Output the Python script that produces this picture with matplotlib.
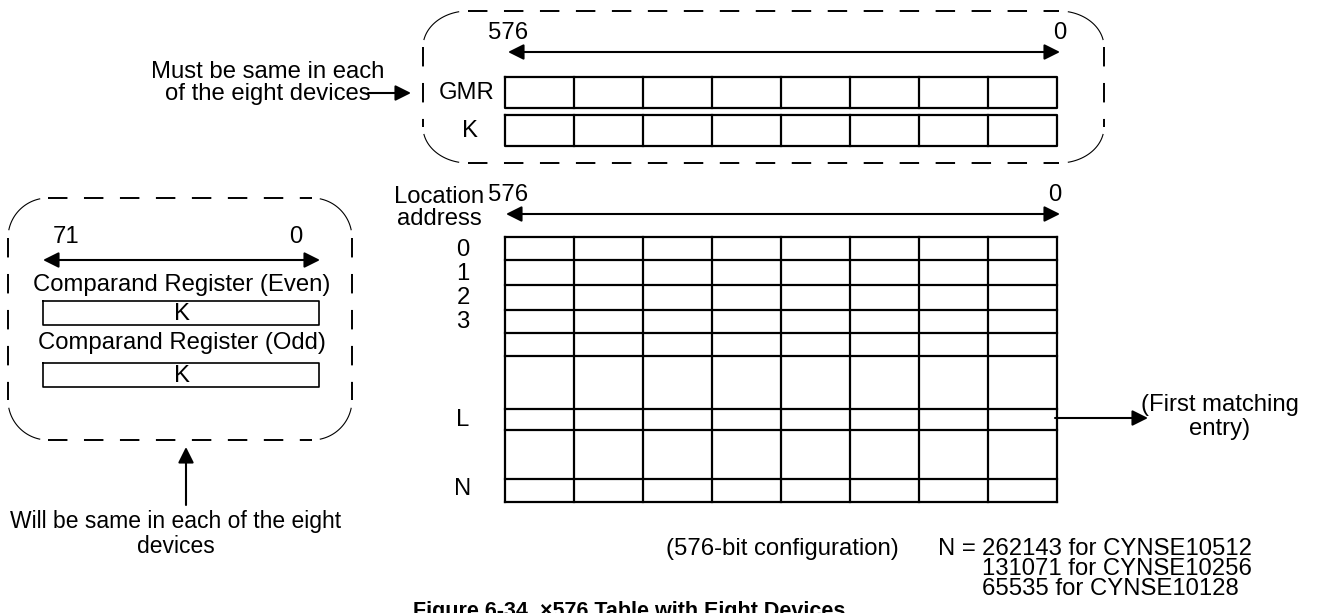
import numpy as np
import matplotlib
matplotlib.use("Agg")
import matplotlib.pyplot as plt

# ---------------- content ----------------
top_bits = ("576", "0")
comparand_bits = ("71", "0")
n_segments = 8
global_regs = ["GMR", "K"]
table_row_labels = ["0", "1", "2", "3", "L", "N"]
comparand_labels = ["Comparand Register (Even)", "Comparand Register (Odd)"]
comparand_contents = ["K", "K"]
must_note = ["Must be same in each", "of the eight devices"]
will_note = ["Will be same in each of the eight", "devices"]
location_label = ["Location", "address"]
match_note = ["(First matching", "entry)"]
config_note = "(576-bit configuration)"
n_prefix = "N ="
device_counts = ["262143 for CYNSE10512", "131071 for CYNSE10256", "65535 for CYNSE10128"]
caption = "Figure 6-34. \u00d7576 Table with Eight Devices"

# ---------------- layout (pixel space) ----------------
W, H = 1335, 613
FONT = ["Liberation Sans", "DejaVu Sans"]
FS = 17.2
LS = 1.05
LW_BOX = 1.6
LW_ARROW = 1.5

fig = plt.figure(figsize=(W / 100, H / 100), dpi=100)
ax = fig.add_axes([0, 0, 1, 1])
ax.set_xlim(0, W)
ax.set_ylim(H, 0)
ax.axis("off")


def txt(x, y, s, ha="center", **kw):
    ax.text(x, y, s, ha=ha, va="center", fontsize=kw.pop("fs", FS),
            family=FONT, color="black", linespacing=kw.pop("ls", LS), **kw)


def arrow(x0, y0, x1, y1, both=False):
    ax.annotate("", xy=(x1, y1), xytext=(x0, y0),
                arrowprops=dict(arrowstyle=("<|-|>" if both else "-|>") + ",head_length=0.5,head_width=0.25",
                                color="black", lw=LW_ARROW, mutation_scale=19,
                                shrinkA=0, shrinkB=0))


def dashed_round_box(x0, y0, x1, y1, rx, ry):
    dash = dict(color="black", lw=1.4, linestyle=(0, (10, 8.5)), solid_capstyle="butt")
    ax.plot([x0 + rx, x1 - rx], [y0, y0], **dash)
    ax.plot([x0 + rx, x1 - rx], [y1, y1], **dash)
    ax.plot([x0, x0], [y0 + ry, y1 - ry], **dash)
    ax.plot([x1, x1], [y0 + ry, y1 - ry], **dash)
    t = np.linspace(np.radians(12), np.radians(78), 30)
    for cx, cy, sx, sy in [(x0 + rx, y0 + ry, -1, -1), (x1 - rx, y0 + ry, 1, -1),
                           (x0 + rx, y1 - ry, -1, 1), (x1 - rx, y1 - ry, 1, 1)]:
        ax.plot(cx + sx * rx * np.cos(t), cy + sy * ry * np.sin(t), color="black", lw=0.8)


def segmented_row(x0, x1, y0, y1, n):
    edges = np.linspace(x0, x1, n + 1)
    ax.plot([x0, x1, x1, x0, x0], [y0, y0, y1, y1, y0], color="black", lw=LW_BOX)
    for e in edges[1:-1]:
        ax.plot([e, e], [y0, y1], color="black", lw=LW_BOX)


# ---------- top global register group ----------
dashed_round_box(423, 11, 1104, 163, 45, 36)
txt(508, 33, top_bits[0])
txt(1060, 33, top_bits[1])
arrow(508, 52, 1060, 52, both=True)
reg_rows = [(77, 108), (115, 146)]
for name, (ya, yb) in zip(global_regs, reg_rows):
    segmented_row(505, 1057, ya, yb, n_segments)
txt(495, 93, global_regs[0], ha="right")
txt(470, 131, global_regs[1])

txt(268, 83, "\n".join(must_note))
arrow(368, 93, 411, 93)

# ---------- main table ----------
txt(484, 208, "\n".join(location_label), ha="right", ma="center")
txt(508, 195, top_bits[0])
txt(1055, 195, top_bits[1])
arrow(506, 214, 1060, 214, both=True)

row_edges = [237, 260, 285, 310, 333, 356, 409, 430, 479, 502]
col_edges = np.linspace(505, 1057, n_segments + 1)
for y in row_edges:
    ax.plot([col_edges[0], col_edges[-1]], [y, y], color="black", lw=LW_BOX)
for x in col_edges:
    ax.plot([x, x], [row_edges[0], row_edges[-1]], color="black", lw=LW_BOX)
label_y = [250, 274, 298, 322, 420, 489]
for lab, y in zip(table_row_labels, label_y):
    txt(463, y, lab)

arrow(1055, 418, 1148, 418)
txt(1220, 417, "\n".join(match_note), ls=1.12)

# ---------- comparand registers ----------
dashed_round_box(8, 198, 352, 440, 40, 40)
txt(66, 237, comparand_bits[0])
txt(296, 237, comparand_bits[1])
arrow(43, 260, 320, 260, both=True)
comp_boxes = [(301, 325), (363, 387)]
comp_label_y = [285, 343]
for lab, content, (ya, yb), ly in zip(comparand_labels, comparand_contents, comp_boxes, comp_label_y):
    txt(182, ly, lab)
    ax.plot([43, 319, 319, 43, 43], [ya, ya, yb, yb, ya], color="black", lw=1.2)
    txt(182, (ya + yb) / 2 + 1, content)

arrow(186, 505, 186, 447)
txt(176, 534, "\n".join(will_note), fs=16.5, ls=1.12)

# ---------- bottom notes ----------
txt(782, 549, config_note)
txt(938, 549, n_prefix, ha="left")
txt(982, 569, "\n".join(device_counts), ha="left", ls=0.9)
txt(413, 611, caption, ha="left", fontweight="bold", fs=15.5)

fig.savefig("out.png", dpi=100)
